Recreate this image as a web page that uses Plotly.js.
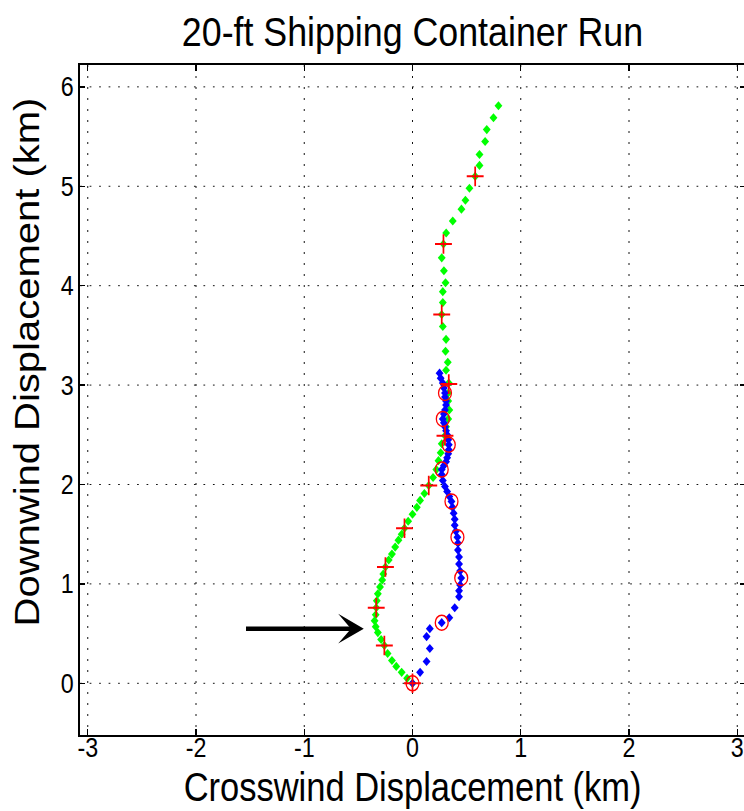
<!DOCTYPE html>
<html><head><meta charset="utf-8">
<script src="https://cdn.plot.ly/plotly-3.0.1.min.js"></script>
<style>
html,body{margin:0;padding:0;background:#fff;overflow:hidden;}
#wrap{width:744px;height:811px;overflow:hidden;position:relative;background:#fff;}
#plot{width:864px;height:811px;transform:scaleX(0.86207);transform-origin:0 0;}
</style></head><body>
<div id="wrap"><div id="plot"></div></div>
<script>
// Green trajectory (crosswind km, downwind km)
const greenX = [0.00,-0.05,-0.10,-0.15,-0.19,-0.23,-0.26,-0.29,-0.32,-0.34,-0.35,-0.34,-0.335,-0.33,-0.32,-0.30,-0.28,-0.27,-0.25,-0.22,-0.19,-0.16,-0.13,-0.10,-0.074,-0.04,0.00,0.04,0.07,0.11,0.15,0.19,0.22,0.24,0.26,0.27,0.30,0.31,0.33,0.34,0.33,0.33,0.335,0.31,0.326,0.305,0.31,0.28,0.27,0.28,0.28,0.305,0.29,0.27,0.286,0.311,0.372,0.452,0.489,0.526,0.579,0.619,0.619,0.671,0.686,0.748,0.794];
const greenY = [0.00,0.05,0.11,0.17,0.23,0.30,0.38,0.44,0.51,0.57,0.63,0.69,0.76,0.83,0.90,0.97,1.04,1.10,1.17,1.24,1.30,1.37,1.44,1.50,1.56,1.63,1.70,1.77,1.84,1.91,1.99,2.07,2.15,2.24,2.32,2.41,2.49,2.58,2.66,2.75,2.84,2.92,3.02,3.15,3.23,3.34,3.46,3.59,3.71,3.83,3.94,4.03,4.15,4.28,4.42,4.53,4.65,4.77,4.86,4.98,5.10,5.21,5.32,5.45,5.57,5.69,5.81];
// Blue trajectory
const blueX = [0.00,0.07,0.13,0.16,0.13,0.16,0.27,0.34,0.39,0.43,0.43,0.44,0.45,0.44,0.43,0.43,0.42,0.42,0.415,0.40,0.39,0.39,0.38,0.37,0.36,0.34,0.32,0.30,0.28,0.27,0.27,0.29,0.31,0.32,0.33,0.335,0.335,0.33,0.32,0.31,0.30,0.29,0.28,0.29,0.30,0.31,0.31,0.30,0.30,0.29,0.28,0.26,0.25];
const blueY = [0.00,0.11,0.22,0.35,0.47,0.55,0.61,0.66,0.76,0.87,0.93,0.99,1.06,1.13,1.20,1.27,1.34,1.41,1.47,1.53,1.59,1.65,1.71,1.77,1.83,1.88,1.93,1.98,2.04,2.10,2.15,2.19,2.23,2.27,2.31,2.35,2.40,2.45,2.50,2.54,2.58,2.62,2.66,2.71,2.75,2.80,2.84,2.88,2.92,2.97,3.02,3.07,3.12];
// Red '+' time marks on green track
const plusX = [0.00,-0.26,-0.335,-0.25,-0.074,0.15,0.30,0.335,0.27,0.286,0.579];
const plusY = [0.00,0.38,0.76,1.17,1.56,1.99,2.49,3.01,3.71,4.42,5.10];
// Red circle time marks on blue track
const circX = [0.00,0.27,0.45,0.415,0.36,0.27,0.335,0.28,0.30];
const circY = [0.00,0.61,1.06,1.47,1.83,2.15,2.40,2.66,2.92];
// Arrow (tail -> head), data units
const arrowTail = [-1.55, 0.55];
const arrowHead = [-0.45, 0.55];
const xTicks = [-3,-2,-1,0,1,2,3];
const xTickLabels = ['-3','-2','-1','0','1','2','3'];
const yTicks = [0,1,2,3,4,5,6];
const yTickLabels = ['0','1','2','3','4','5','6'];
const titleText = '20-ft Shipping Container Run';
const xTitle = 'Crosswind Displacement (km)';
const yTitle = 'Downwind Displacement (km)';

const FONT = "'Liberation Sans', Arial, Helvetica, sans-serif";
const traces = [
  {x: greenX, y: greenY, mode: 'markers', type: 'scatter',
   marker: {symbol: 'diamond', size: 7, color: '#00ff00', line: {width: 0}}},
  {x: blueX, y: blueY, mode: 'markers', type: 'scatter',
   marker: {symbol: 'diamond', size: 7, color: '#0000ff', line: {width: 0}}},
  {x: plusX, y: plusY, mode: 'markers', type: 'scatter',
   marker: {symbol: 'cross-thin-open', size: 14, color: '#ff0000', line: {width: 2, color: '#ff0000'}}},
  {x: circX, y: circY, mode: 'markers', type: 'scatter',
   marker: {symbol: 'circle-open', size: 15, color: '#ff0000', line: {width: 1.5, color: '#ff0000'}}}
];
const axisCommon = {
  ticks: 'inside', ticklen: 6, tickwidth: 1.5, tickcolor: '#000',
  showline: true, linecolor: '#000', linewidth: 2, mirror: 'ticks',
  showgrid: true, gridcolor: '#000', gridwidth: 1, griddash: '2px,9px',
  zeroline: false, tickfont: {family: FONT, size: 27, color: '#000'},
  fixedrange: true
};
const layout = {
  width: 864, height: 811,
  margin: {l: 93, r: 0, t: 65, b: 76, pad: 0},
  paper_bgcolor: '#fff', plot_bgcolor: '#fff',
  showlegend: false,
  title: {text: titleText, font: {family: FONT, size: 41.5, color: '#000'},
          x: 0.5, xref: 'paper', xanchor: 'center', y: 1 - 31/811, yref: 'container', yanchor: 'middle'},
  xaxis: Object.assign({}, axisCommon, {range: [-3.07, 3.07], tickmode: 'array',
    tickvals: xTicks, ticktext: xTickLabels, ticklabelstandoff: -12}),
  yaxis: Object.assign({}, axisCommon, {range: [-0.52, 6.22], tickmode: 'array',
    tickvals: yTicks, ticktext: yTickLabels}),
  annotations: [
    {x: arrowHead[0], y: arrowHead[1], ax: arrowTail[0], ay: arrowTail[1],
     xref: 'x', yref: 'y', axref: 'x', ayref: 'y', text: '', showarrow: true,
     arrowhead: 3, arrowsize: 1.1, arrowwidth: 4.5, arrowcolor: '#000'},
    {text: xTitle, xref: 'paper', yref: 'paper', x: 0.5, y: -(787 - 735) / 670,
     xanchor: 'center', yanchor: 'middle', showarrow: false, borderpad: 0,
     font: {family: FONT, size: 40, color: '#000'}},
    {text: yTitle, xref: 'paper', yref: 'paper', x: (27 - 80) / 665, y: (735 - 362) / 670,
     xanchor: 'center', yanchor: 'middle', showarrow: false, textangle: -90,
     font: {family: FONT, size: 40, color: '#000'}}
  ]
};
Plotly.newPlot('plot', traces, layout, {displayModeBar: false, staticPlot: true});
</script>
</body></html>
